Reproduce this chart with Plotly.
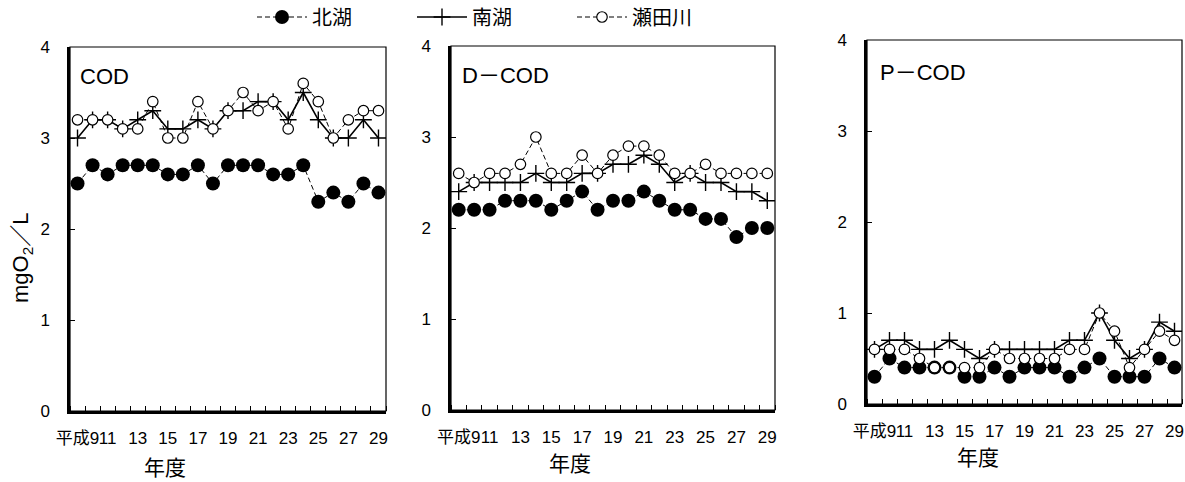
import plotly.graph_objects as go

years = list(range(9, 30))
tick_years = list(range(9, 30, 2))
tick_labels = ["平成9"] + [str(y) for y in range(11, 30, 2)]

series_names = ["北湖", "南湖", "瀬田川"]

cod_kita = [2.5, 2.7, 2.6, 2.7, 2.7, 2.7, 2.6, 2.6, 2.7, 2.5, 2.7, 2.7, 2.7, 2.6, 2.6, 2.7, 2.3, 2.4, 2.3, 2.5, 2.4]
cod_minami = [3.0, 3.2, 3.2, 3.1, 3.2, 3.3, 3.1, 3.1, 3.2, 3.1, 3.3, 3.3, 3.4, 3.4, 3.2, 3.5, 3.2, 3.0, 3.0, 3.2, 3.0]
cod_seta = [3.2, 3.2, 3.2, 3.1, 3.1, 3.4, 3.0, 3.0, 3.4, 3.1, 3.3, 3.5, 3.3, 3.4, 3.1, 3.6, 3.4, 3.0, 3.2, 3.3, 3.3]

dcod_kita = [2.2, 2.2, 2.2, 2.3, 2.3, 2.3, 2.2, 2.3, 2.4, 2.2, 2.3, 2.3, 2.4, 2.3, 2.2, 2.2, 2.1, 2.1, 1.9, 2.0, 2.0]
dcod_minami = [2.4, 2.5, 2.5, 2.5, 2.5, 2.6, 2.5, 2.5, 2.6, 2.6, 2.7, 2.7, 2.8, 2.7, 2.5, 2.6, 2.5, 2.5, 2.4, 2.4, 2.3]
dcod_seta = [2.6, 2.5, 2.6, 2.6, 2.7, 3.0, 2.6, 2.6, 2.8, 2.6, 2.8, 2.9, 2.9, 2.8, 2.6, 2.6, 2.7, 2.6, 2.6, 2.6, 2.6]

pcod_kita = [0.3, 0.5, 0.4, 0.4, 0.4, 0.4, 0.3, 0.3, 0.4, 0.3, 0.4, 0.4, 0.4, 0.3, 0.4, 0.5, 0.3, 0.3, 0.3, 0.5, 0.4]
pcod_minami = [0.6, 0.7, 0.7, 0.6, 0.6, 0.7, 0.6, 0.5, 0.6, 0.6, 0.6, 0.6, 0.6, 0.7, 0.7, 1.0, 0.7, 0.5, 0.6, 0.9, 0.8]
pcod_seta = [0.6, 0.6, 0.6, 0.5, 0.4, 0.4, 0.4, 0.4, 0.6, 0.5, 0.5, 0.5, 0.5, 0.6, 0.6, 1.0, 0.8, 0.4, 0.6, 0.8, 0.7]

panel_titles = ["COD", "D－COD", "P－COD"]
panels = [
    (cod_kita, cod_minami, cod_seta),
    (dcod_kita, dcod_minami, dcod_seta),
    (pcod_kita, pcod_minami, pcod_seta),
]

W, H = 1185, 482
# plot areas in pixels: (left, right, top, bottom)
areas = [(70, 386, 47, 411), (451, 775, 46, 410), (867, 1182, 40, 404)]
# x-axis title ("年度") pixel positions per panel
xtitle_pos = [(165, 466), (570, 462), (978, 456)]
ptitle_pos = [(0.025, 0.919), (0.028, 0.919), (0.035, 0.911)]

FONT = "Liberation Sans, Arial, Noto Sans CJK JP, sans-serif"
JFONT = "Noto Sans CJK JP, Liberation Sans, sans-serif"

fig = go.Figure()

styles = [
    dict(mode="lines+markers", line=dict(color="black", width=1, dash="5px,3px"),
         marker=dict(symbol="circle", size=14, color="black")),
    dict(mode="lines+markers", line=dict(color="black", width=1.6),
         marker=dict(symbol="cross-thin", size=12, color="black",
                     line=dict(color="black", width=1.4))),
    dict(mode="lines+markers", line=dict(color="black", width=1, dash="5px,3px"),
         marker=dict(symbol="circle", size=10.5, color="white",
                     line=dict(color="black", width=1.2))),
]

for i, (vals, area) in enumerate(zip(panels, areas)):
    xa = "x" if i == 0 else f"x{i+1}"
    ya = "y" if i == 0 else f"y{i+1}"
    for j, v in enumerate(vals):
        fig.add_trace(go.Scatter(x=years, y=v, name=series_names[j], xaxis=xa, yaxis=ya,
                                 showlegend=(i == 0), **styles[j]))
    l, r, t, b = area
    xkey = "xaxis" if i == 0 else f"xaxis{i+1}"
    ykey = "yaxis" if i == 0 else f"yaxis{i+1}"
    fig.update_layout(**{
        xkey: dict(domain=[l / W, r / W], anchor=ya, range=[8.5, 29.5], automargin=False,
                   tickvals=tick_years, ticktext=tick_labels, ticks="", showgrid=False,
                   tickangle=0,
                   zeroline=False, showline=True, linecolor="black", linewidth=2.5,
                   tickfont=dict(family=FONT, size=17, color="black"), ticklabelstandoff=10,
                   minor=dict(tick0=8.5, dtick=1, ticks="inside", ticklen=5,
                              tickcolor="black", tickwidth=1, showgrid=False)),
        ykey: dict(domain=[1 - b / H, 1 - t / H], anchor=xa, range=[0, 4], dtick=1,
                   automargin=False,
                   ticks="inside", ticklen=5, tickcolor="black", showgrid=False,
                   zeroline=False, showline=True, linecolor="black", linewidth=2.5,
                   tickfont=dict(family=FONT, size=17, color="black"), ticklabelstandoff=14),
    })
    fig.add_shape(type="rect", xref=f"{xa} domain", yref=f"{ya} domain",
                  x0=0, x1=1, y0=0, y1=1, line=dict(color="black", width=1.2), layer="below")
    fig.add_annotation(text=panel_titles[i], xref=f"{xa} domain", yref=f"{ya} domain",
                       x=ptitle_pos[i][0], y=ptitle_pos[i][1], xanchor="left", yanchor="middle",
                       showarrow=False, font=dict(family=FONT, size=22, color="black"))
    fig.add_annotation(text="年度", xref="paper", yref="paper",
                       x=xtitle_pos[i][0] / W, y=1 - xtitle_pos[i][1] / H,
                       xanchor="center", yanchor="middle",
                       showarrow=False, font=dict(family=JFONT, size=21, color="black"))

fig.add_annotation(text="mgO<sub>2</sub>／L", xref="paper", yref="paper",
                   x=22 / W, y=1 - 258 / H, textangle=-90, xanchor="center", yanchor="middle",
                   showarrow=False, font=dict(family=FONT, size=22, color="black"))

fig.update_layout(
    width=W, height=H, margin=dict(l=0, r=0, t=0, b=0, autoexpand=False),
    paper_bgcolor="white", plot_bgcolor="white",
    legend=dict(orientation="h", x=252 / W, y=1 - 17 / H, xanchor="left", yanchor="middle",
                font=dict(family=JFONT, size=20, color="black"), entrywidth=95,
                entrywidthmode="pixels", itemwidth=50, bgcolor="rgba(0,0,0,0)"),
    font=dict(family=FONT, color="black"),
)

fig.write_html("out.html")
